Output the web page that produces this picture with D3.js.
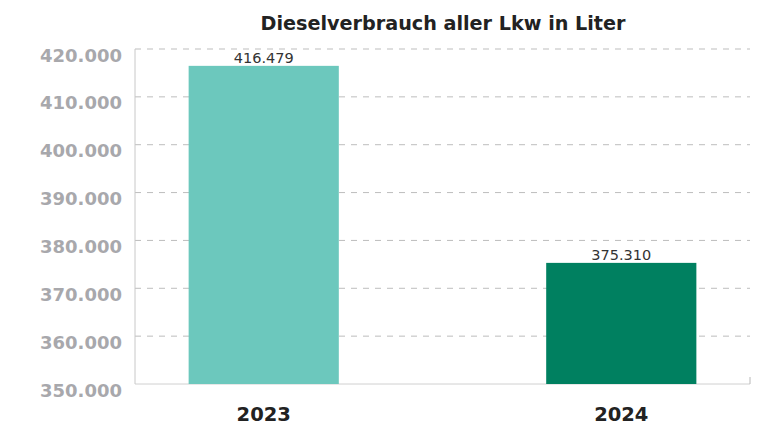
<!DOCTYPE html>
<html>
<head>
<meta charset="utf-8">
<script src="https://cdn.jsdelivr.net/npm/d3@7"></script>
<style>
  body { margin: 0; background: #fff; }
  text { font-family: "DejaVu Sans", sans-serif; }
</style>
</head>
<body>
<script>
// data
var years = ["2023", "2024"];
var liters = [416479, 375310];
var barColors = ["#6cc8bd", "#008060"];
var yTicks = [350000, 360000, 370000, 380000, 390000, 400000, 410000, 420000];

var width = 763, height = 431;
var margin = {top: 49, right: 13, bottom: 47, left: 135};

var svg = d3.select("body").append("svg")
  .attr("width", width)
  .attr("height", height);

var fmt = d3.formatLocale({decimal: ",", thousands: ".", grouping: [3], currency: ["", "€"]}).format(",.0f");

var x = d3.scaleBand()
  .domain(years)
  .range([margin.left, width - margin.right])
  .paddingInner(0.58)
  .paddingOuter(0.15);

var y = d3.scaleLinear()
  .domain([350000, 420000])
  .range([height - margin.bottom, margin.top]);

// title
svg.append("text")
  .attr("x", 443)
  .attr("y", 30)
  .attr("text-anchor", "middle")
  .style("font-size", "19.2px")
  .style("font-weight", "bold")
  .style("fill", "#222")
  .text("Dieselverbrauch aller Lkw in Liter");

// grid lines
svg.append("g")
  .selectAll("line")
  .data(yTicks)
  .enter().append("line")
  .attr("x1", margin.left)
  .attr("x2", width - margin.right)
  .attr("y1", function(d) { return y(d); })
  .attr("y2", function(d) { return y(d); })
  .attr("stroke", function(d) { return d == 350000 ? "#d0d0d0" : "#bdbdbd"; })
  .attr("stroke-width", 1)
  .attr("stroke-dasharray", function(d) { return d == 350000 ? null : "6,6"; });

// left axis line
svg.append("line")
  .attr("x1", margin.left).attr("x2", margin.left)
  .attr("y1", y(420000)).attr("y2", y(350000))
  .attr("stroke", "#c8c8c8");

// little end tick on the right
svg.append("line")
  .attr("x1", width - margin.right).attr("x2", width - margin.right)
  .attr("y1", y(350000) - 7).attr("y2", y(350000))
  .attr("stroke", "#b8b8b8");

// y labels
svg.append("g")
  .selectAll("text")
  .data(yTicks)
  .enter().append("text")
  .attr("x", margin.left - 13)
  .attr("y", function(d) { return y(d) + 12.5; })
  .attr("text-anchor", "end")
  .style("font-size", "18px")
  .style("font-weight", "bold")
  .style("fill", "#a8a8ac")
  .text(function(d) { return fmt(d); });

// bars
svg.append("g")
  .selectAll("rect")
  .data(liters)
  .enter().append("rect")
  .attr("x", function(d, i) { return x(years[i]); })
  .attr("width", x.bandwidth())
  .attr("y", function(d) { return y(d); })
  .attr("height", function(d) { return y(350000) - y(d); })
  .style("fill", function(d, i) { return barColors[i]; });

// value labels
svg.append("g")
  .selectAll("text")
  .data(liters)
  .enter().append("text")
  .attr("x", function(d, i) { return x(years[i]) + x.bandwidth() / 2; })
  .attr("y", function(d) { return y(d) - 3; })
  .attr("text-anchor", "middle")
  .style("font-size", "14.5px")
  .style("fill", "#333")
  .text(function(d) { return fmt(d); });

// x labels
svg.append("g")
  .selectAll("text")
  .data(years)
  .enter().append("text")
  .attr("x", function(d) { return x(d) + x.bandwidth() / 2; })
  .attr("y", 421)
  .attr("text-anchor", "middle")
  .style("font-size", "19.5px")
  .style("font-weight", "bold")
  .style("fill", "#222")
  .text(function(d) { return d; });
</script>
</body>
</html>
